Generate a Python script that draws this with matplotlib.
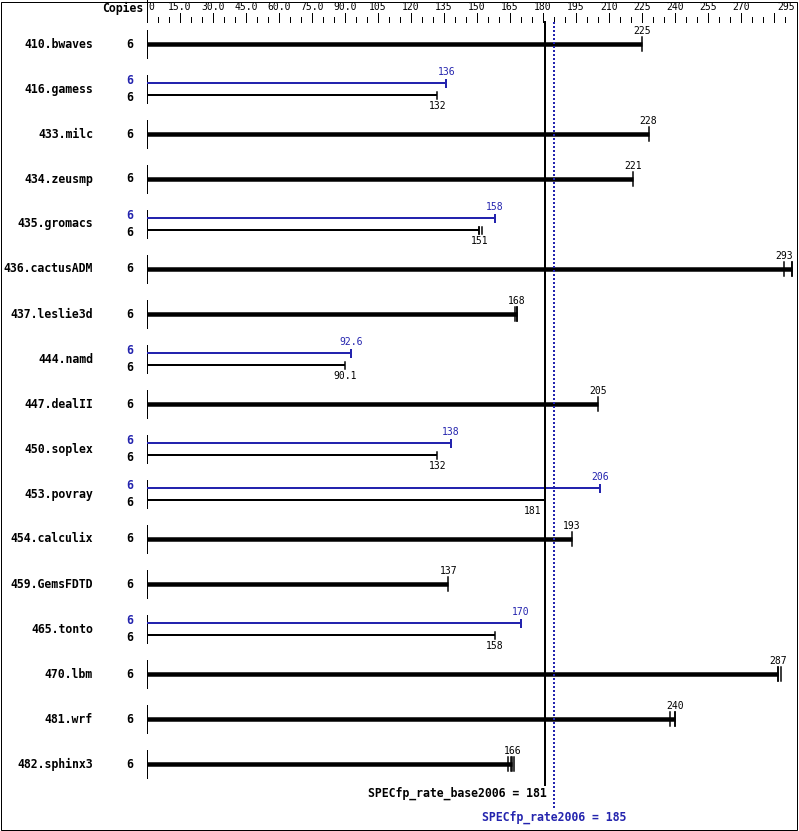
import matplotlib
matplotlib.use("Agg")
import matplotlib.pyplot as plt
from matplotlib.patches import Rectangle

# ---------------- data ----------------
benchmarks = ["410.bwaves", "416.gamess", "433.milc", "434.zeusmp", "435.gromacs",
              "436.cactusADM", "437.leslie3d", "444.namd", "447.dealII", "450.soplex",
              "453.povray", "454.calculix", "459.GemsFDTD", "465.tonto", "470.lbm",
              "481.wrf", "482.sphinx3"]
base_copies = [6] * 17
base_values = [225, 132, 228, 221, 151, 293, 168, 90.1, 205, 132, 181, 193, 137, 158, 287, 240, 166]
peak_copies = [None, 6, None, None, 6, None, None, 6, None, 6, 6, None, None, 6, None, None, None]
peak_values = [None, 136, None, None, 158, None, None, 92.6, None, 138, 206, None, None, 170, None, None, None]
# individual run values visible as extra end ticks (base)
base_runs = {"435.gromacs": [151, 152.3], "436.cactusADM": [289.5, 293], "437.leslie3d": [167.1, 168],
             "470.lbm": [287, 288], "481.wrf": [237.8, 240], "482.sphinx3": [164.3, 165.6, 167]}
tick_labels = ["0", "15.0", "30.0", "45.0", "60.0", "75.0", "90.0", "105", "120", "135", "150",
               "165", "180", "195", "210", "225", "240", "255", "270", "295"]
tick_values = [0, 15, 30, 45, 60, 75, 90, 105, 120, 135, 150, 165, 180, 195, 210, 225, 240, 255, 270, 295]
base_mean = 181
peak_mean = 185
base_label = "SPECfp_rate_base2006 = 181"
peak_label = "SPECfp_rate2006 = 185"

# ---------------- layout ----------------
W, H = 799, 831
X0 = 147          # pixel of value 0
SCALE = 2.2       # pixels per unit
ROW0 = 44         # pixel of first row centre
ROWSTEP = 45

BLUE = "#2424ae"
MONO = "DejaVu Sans Mono"
FS_B = 8.3
FS_V = 7.0

fig = plt.figure(figsize=(W / 100, H / 100), dpi=100)
ax = fig.add_axes([0, 0, 1, 1])
ax.set_xlim(-X0 / SCALE, (W - X0) / SCALE)
ax.set_ylim((H - ROW0) / ROWSTEP, -ROW0 / ROWSTEP)
ax.axis("off")

def py(p):
    """pixel y -> row units"""
    return (p - ROW0) / ROWSTEP

def dy(p):
    return p / ROWSTEP

def dx(p):
    return p / SCALE

lw = lambda px: px * 0.72
XMAX = (W - X0) / SCALE

# border
fig.patches.append(Rectangle((0.5 / W, 1.5 / H), (W - 3) / W, (H - 3) / H, transform=fig.transFigure,
                             fill=False, edgecolor="black", linewidth=lw(1)))

# top scale
ax.text(-dx(4), py(8), "Copies", ha="right", va="center", fontsize=FS_B, fontweight="bold", family=MONO)
ax.plot([0, 0], [py(0), py(22)], color="black", lw=lw(1))
for v in range(0, 295, 5):
    top = 13 if v % 15 == 0 else 17
    ax.plot([v, v], [py(top), py(22)], color="black", lw=lw(1))
for v, lab in zip(tick_values, tick_labels):
    if v == 0:
        ax.text(v + dx(1), py(7), lab, ha="left", va="center", fontsize=FS_V, family=MONO)
    elif v == tick_values[-1]:
        ax.text(XMAX - dx(4), py(7), lab, ha="right", va="center", fontsize=FS_V, family=MONO)
    else:
        ax.text(v, py(7), lab, ha="center", va="center", fontsize=FS_V, family=MONO)

def fmt(v):
    return f"{v:.1f}" if v < 100 else f"{v:.0f}"

def value_label(v, y, color="black"):
    if abs(v - base_mean) < 3:
        ax.text(v - dx(4), y, fmt(v), ha="right", va="center", fontsize=FS_V, family=MONO, color=color)
    elif v + dx(10) > XMAX - dx(4):
        ax.text(XMAX - dx(6), y, fmt(v), ha="right", va="center", fontsize=FS_V, family=MONO, color=color)
    else:
        ax.text(v, y, fmt(v), ha="center", va="center", fontsize=FS_V, family=MONO, color=color)

for i, name in enumerate(benchmarks):
    ax.text(-dx(54), i, name, ha="right", va="center", fontsize=FS_B, fontweight="bold", family=MONO)
    ax.plot([0, 0], [i - dy(14), i + dy(14)], color="black", lw=lw(1))
    bv = base_values[i]
    pv = peak_values[i]
    runs = base_runs.get(name, [])
    if pv is None:
        ax.text(-dx(17), i, str(base_copies[i]), ha="center", va="center", fontsize=FS_B,
                fontweight="bold", family=MONO)
        ax.plot([0, bv], [i, i], color="black", lw=lw(4.5), solid_capstyle="butt")
        for r in runs + [bv]:
            ax.plot([r, r], [i - dy(7), i + dy(7)], color="black", lw=lw(1.5))
        value_label(bv, i - dy(13))
    else:
        ax.text(-dx(17), i - dy(8.5), str(peak_copies[i]), ha="center", va="center", fontsize=FS_B,
                fontweight="bold", family=MONO, color=BLUE)
        ax.text(-dx(17), i + dy(8.5), str(base_copies[i]), ha="center", va="center", fontsize=FS_B,
                fontweight="bold", family=MONO)
        yp, yb = i - dy(6), i + dy(6)
        ax.plot([0, pv], [yp, yp], color=BLUE, lw=lw(2), solid_capstyle="butt")
        ax.plot([pv, pv], [yp - dy(3.5), yp + dy(3.5)], color=BLUE, lw=lw(2))
        value_label(pv, yp - dy(11), BLUE)
        ax.plot([0, bv], [yb, yb], color="black", lw=lw(2), solid_capstyle="butt")
        for r in runs + [bv]:
            ax.plot([r, r], [yb - dy(3.5), yb + dy(3.5)], color="black", lw=lw(1.5))
        value_label(bv, yb + dy(11))

# mean lines
ax.plot([base_mean, base_mean], [py(22), py(785)], color="black", lw=lw(2))
ax.plot([peak_mean, peak_mean], [py(22), py(808)], color=BLUE, lw=lw(2), linestyle=(0, (1, 1)))
ax.text(base_mean + dx(2), py(793), base_label, ha="right", va="center", fontsize=FS_B,
        fontweight="bold", family=MONO)
ax.text(peak_mean, py(817), peak_label, ha="center", va="center", fontsize=FS_B,
        fontweight="bold", family=MONO, color=BLUE)

fig.savefig("out.png", dpi=100)
